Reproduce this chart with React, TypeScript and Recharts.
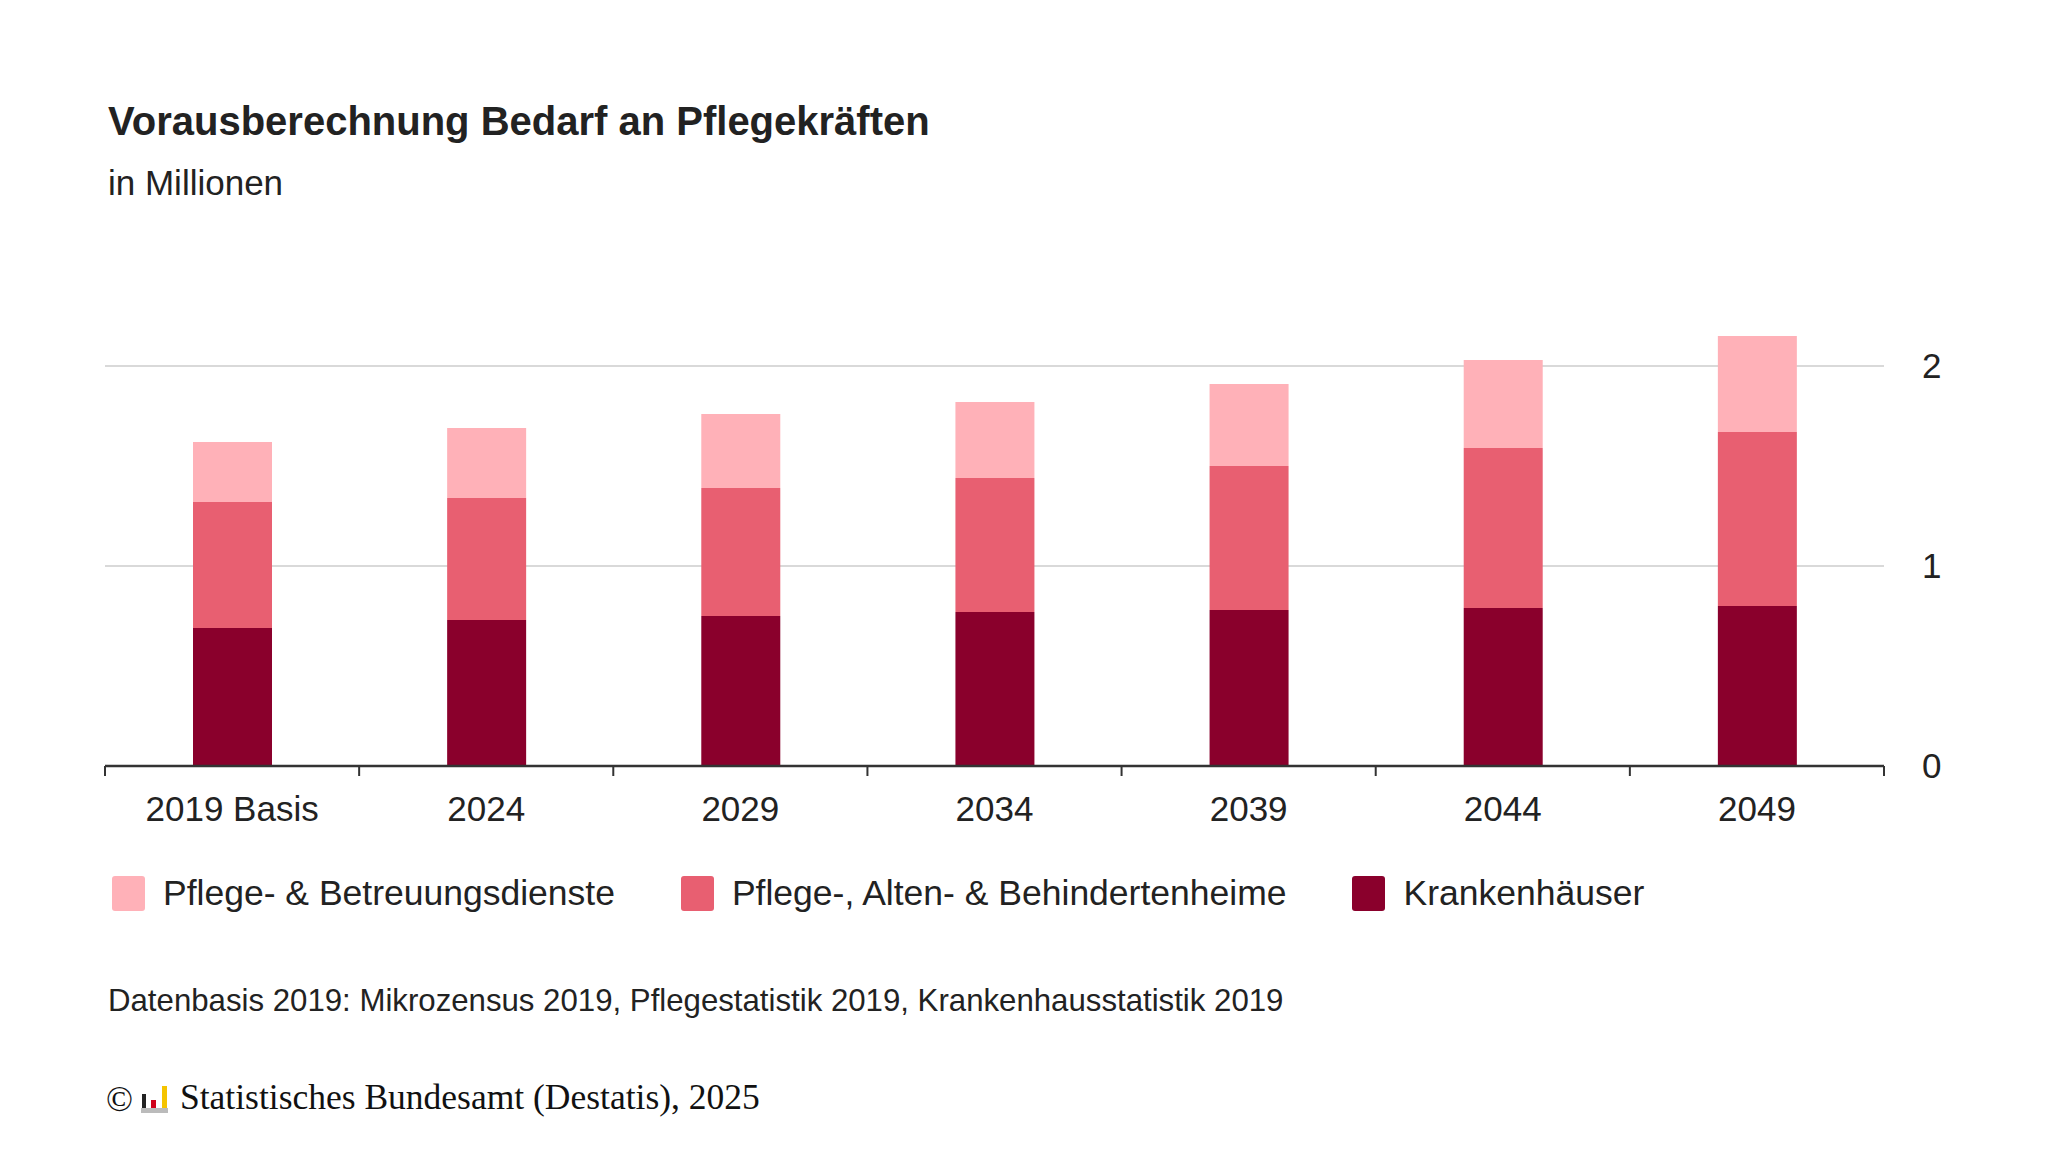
import React from 'react'
import { BarChart, Bar, XAxis, YAxis, CartesianGrid } from 'recharts'

// Werte in Millionen
const categories = ['2019 Basis', '2024', '2029', '2034', '2039', '2044', '2049']
const krankenhaeuser = [0.69, 0.73, 0.75, 0.77, 0.78, 0.79, 0.8]
const heime = [0.63, 0.61, 0.64, 0.67, 0.72, 0.8, 0.87]
const dienste = [0.3, 0.35, 0.37, 0.38, 0.41, 0.44, 0.48]
const yTicks = [0, 1, 2]

const series = [
  { key: 'dienste', name: 'Pflege- & Betreuungsdienste', color: '#ffb1b8' },
  { key: 'heime', name: 'Pflege-, Alten- & Behindertenheime', color: '#e85f71' },
  { key: 'krankenhaeuser', name: 'Krankenhäuser', color: '#8a002c' },
]

const data = categories.map((label, i) => ({
  label,
  krankenhaeuser: krankenhaeuser[i],
  heime: heime[i],
  dienste: dienste[i],
}))

const FONT = '"Liberation Sans", Arial, Helvetica, sans-serif'
const SERIF = '"Liberation Serif", "Times New Roman", serif'
const W = 2048
const H = 900
const PLOT_LEFT = 105
const PLOT_RIGHT = 1884
const PLOT_TOP = 326
const PLOT_BOTTOM = 766
const Y_AXIS_W = 100
const X_AXIS_H = 60
const BAND = (PLOT_RIGHT - PLOT_LEFT) / categories.length

function XTick(props: any) {
  const { x, payload, index } = props
  const last = index === categories.length - 1
  return (
    <g>
      <line x1={x - BAND / 2} x2={x - BAND / 2} y1={PLOT_BOTTOM} y2={PLOT_BOTTOM + 10} stroke="#333" strokeWidth={2} />
      {last && (
        <line x1={x + BAND / 2} x2={x + BAND / 2} y1={PLOT_BOTTOM} y2={PLOT_BOTTOM + 10} stroke="#333" strokeWidth={2} />
      )}
      <text x={x} y={PLOT_BOTTOM + 55} textAnchor="middle" fontSize={35} fill="#222" fontFamily={FONT}>
        {payload.value}
      </text>
    </g>
  )
}

function Logo() {
  return (
    <svg width={28} height={28} viewBox="0 0 28 28" style={{ position: 'absolute', left: 141, top: 1085 }}>
      <rect x={1} y={9} width={4} height={14} fill="#222" />
      <rect x={10} y={15} width={5} height={8} fill="#d0021b" />
      <rect x={21} y={1} width={5} height={22} fill="#f5c400" />
      <rect x={0} y={23} width={27} height={5} fill="#bbb" />
    </svg>
  )
}

export default function App() {
  return (
    <div style={{ position: 'absolute', left: 0, top: 0, width: W, height: 1152, background: '#fff', fontFamily: FONT, color: '#222' }}>
      <BarChart
        width={W}
        height={H}
        data={data}
        margin={{ top: PLOT_TOP, left: PLOT_LEFT, right: W - PLOT_RIGHT - Y_AXIS_W, bottom: H - PLOT_BOTTOM - X_AXIS_H }}
      >
        <CartesianGrid vertical={false} horizontalValues={yTicks} stroke="#cccccc" strokeWidth={1.5} />
        <XAxis
          dataKey="label"
          height={X_AXIS_H}
          axisLine={{ stroke: '#333', strokeWidth: 2.5 }}
          tickLine={false}
          tick={XTick}
          interval={0}
        />
        <YAxis
          orientation="right"
          width={Y_AXIS_W}
          domain={[0, 2.2]}
          ticks={yTicks}
          axisLine={false}
          tickLine={false}
          tickSize={0}
          tickMargin={38}
          tick={{ fontSize: 35, fill: '#222', fontFamily: FONT, textAnchor: 'start' }}
        />
        <Bar dataKey="krankenhaeuser" stackId="a" fill="#8a002c" barSize={79} isAnimationActive={false} />
        <Bar dataKey="heime" stackId="a" fill="#e85f71" barSize={79} isAnimationActive={false} />
        <Bar dataKey="dienste" stackId="a" fill="#ffb1b8" barSize={79} isAnimationActive={false} />
      </BarChart>

      <div style={{ position: 'absolute', left: 108, top: 97, fontSize: 40, fontWeight: 700, lineHeight: '48px', whiteSpace: 'nowrap' }}>
        Vorausberechnung Bedarf an Pflegekräften
      </div>
      <div style={{ position: 'absolute', left: 108, top: 162, fontSize: 35, lineHeight: '42px', whiteSpace: 'nowrap' }}>
        in Millionen
      </div>

      <div style={{ position: 'absolute', left: 112, top: 876, display: 'flex', alignItems: 'center', height: 35 }}>
        {series.map((s) => (
          <div key={s.key} style={{ display: 'flex', alignItems: 'center', marginRight: 66 }}>
            <div style={{ width: 33, height: 35, borderRadius: 3, background: s.color, marginRight: 18 }} />
            <span style={{ fontSize: 35.5, whiteSpace: 'nowrap', lineHeight: '35px' }}>{s.name}</span>
          </div>
        ))}
      </div>

      <div style={{ position: 'absolute', left: 108, top: 983, fontSize: 31.2, lineHeight: '36px', whiteSpace: 'nowrap' }}>
        Datenbasis 2019: Mikrozensus 2019, Pflegestatistik 2019, Krankenhausstatistik 2019
      </div>

      <div style={{ position: 'absolute', left: 106, top: 1079, fontSize: 35.5, lineHeight: '40px', whiteSpace: 'nowrap', fontFamily: SERIF, color: '#111' }}>
        ©
      </div>
      <Logo />
      <div style={{ position: 'absolute', left: 180, top: 1077, fontSize: 35.5, lineHeight: '40px', whiteSpace: 'nowrap', fontFamily: SERIF, color: '#111' }}>
        Statistisches Bundesamt (Destatis), 2025
      </div>
    </div>
  )
}
